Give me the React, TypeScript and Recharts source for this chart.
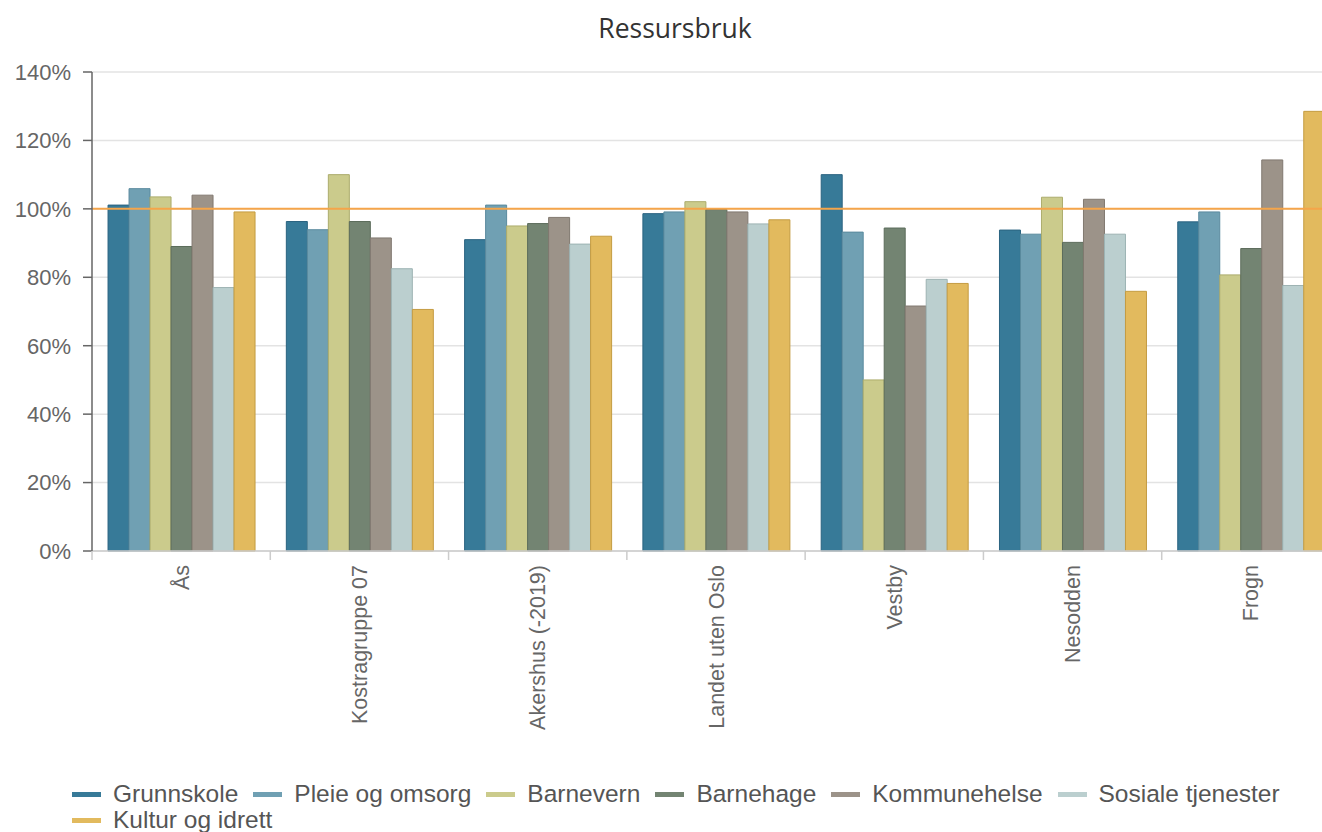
import React from "react";
import { BarChart, Bar, XAxis, YAxis, CartesianGrid, ReferenceLine } from "recharts";

const categories = ["Ås", "Kostragruppe 07", "Akershus (-2019)", "Landet uten Oslo", "Vestby", "Nesodden", "Frogn"];

const grunnskole = [101.1, 96.3, 91.0, 98.6, 110.0, 93.8, 96.2];
const pleieOgOmsorg = [105.9, 93.9, 101.1, 99.1, 93.2, 92.6, 99.1];
const barnevern = [103.5, 110.0, 95.0, 102.1, 50.0, 103.4, 80.7];
const barnehage = [89.0, 96.3, 95.7, 99.8, 94.4, 90.2, 88.4];
const kommunehelse = [104.0, 91.5, 97.5, 99.1, 71.6, 102.8, 114.3];
const sosialeTjenester = [77.0, 82.5, 89.7, 95.6, 79.4, 92.6, 77.6];
const kulturOgIdrett = [99.1, 70.6, 92.0, 96.8, 78.2, 75.9, 128.5];

const yTicks = [0, 20, 40, 60, 80, 100, 120, 140];

const series = [
  { key: "grunnskole", name: "Grunnskole", values: grunnskole, fill: "#377a98", stroke: "#2a6380" },
  { key: "pleie", name: "Pleie og omsorg", values: pleieOgOmsorg, fill: "#70a0b3", stroke: "#5a8a9e" },
  { key: "barnevern", name: "Barnevern", values: barnevern, fill: "#cbcb8c", stroke: "#acac6c" },
  { key: "barnehage", name: "Barnehage", values: barnehage, fill: "#738472", stroke: "#5c6c5b" },
  { key: "kommunehelse", name: "Kommunehelse", values: kommunehelse, fill: "#9c9389", stroke: "#817970" },
  { key: "sosiale", name: "Sosiale tjenester", values: sosialeTjenester, fill: "#bbcfcf", stroke: "#9db3b3" },
  { key: "kultur", name: "Kultur og idrett", values: kulturOgIdrett, fill: "#e2ba5e", stroke: "#c49c42" },
];

const data = categories.map((c, i) => {
  const row: Record<string, string | number> = { name: c };
  series.forEach((s) => {
    row[s.key] = s.values[i];
  });
  return row;
});

const FONT = "'Liberation Sans', Arial, sans-serif";
const CHART_W = 1340;
const Y_AXIS_W = 92;
const PLOT_W = CHART_W - Y_AXIS_W;

const XTick = (props: any) => {
  const { x, y, payload } = props;
  const band = PLOT_W / categories.length;
  const ty = y + 14;
  return (
    <g>
      <line x1={x - band / 2} x2={x - band / 2} y1={y} y2={y + 9} stroke="#cccccc" strokeWidth={1.5} />
      <text
        x={x}
        y={ty}
        transform={`rotate(-90, ${x}, ${ty})`}
        textAnchor="end"
        dy="0.35em"
        fontSize={21.5}
        fill="#666666"
        fontFamily={FONT}
      >
        {payload.value}
      </text>
    </g>
  );
};

export default function App() {
  return (
    <div
      style={{
        position: "absolute",
        left: 0,
        top: 0,
        width: 1322,
        height: 832,
        overflow: "hidden",
        background: "#ffffff",
      }}
    >
      <div
        style={{
          position: "absolute",
          left: 0,
          top: 11,
          width: 1350,
          textAlign: "center",
          fontFamily: "'Open Sans', sans-serif",
          fontSize: 26.5,
          lineHeight: "34px",
          color: "#333333",
        }}
      >
        Ressursbruk
      </div>
      <div style={{ position: "absolute", left: 0, top: 0 }}>
        <BarChart
          width={CHART_W}
          height={770}
          data={data}
          margin={{ top: 72, right: 0, left: 0, bottom: 0 }}
          barCategoryGap="9%"
          barGap={0}
        >
          <CartesianGrid vertical={false} stroke="#e3e3e3" strokeWidth={1.5} />
          <XAxis
            dataKey="name"
            interval={0}
            height={219}
            tickSize={0}
            tickMargin={0}
            tickLine={false}
            axisLine={{ stroke: "#cccccc", strokeWidth: 1.5 }}
            tick={<XTick />}
          />
          <YAxis
            width={Y_AXIS_W}
            domain={[0, 140]}
            ticks={yTicks}
            tickFormatter={(v: number) => `${v}%`}
            tickSize={9}
            tickMargin={12}
            axisLine={{ stroke: "#666666", strokeWidth: 1.5 }}
            tickLine={{ stroke: "#666666", strokeWidth: 1.5 }}
            tick={{ fill: "#666666", fontSize: 22, fontFamily: FONT }}
          />
          {series.map((s) => (
            <Bar
              key={s.key}
              dataKey={s.key}
              name={s.name}
              fill={s.fill}
              stroke={s.stroke}
              strokeWidth={1}
              isAnimationActive={false}
            />
          ))}
          <ReferenceLine y={100} stroke="#f5a54a" strokeWidth={2} />
        </BarChart>
      </div>
      <div
        style={{
          position: "absolute",
          left: 72,
          top: 781,
          width: 1240,
          display: "flex",
          flexWrap: "wrap",
          fontFamily: FONT,
          fontSize: 24.5,
          lineHeight: "26px",
          color: "#555555",
        }}
      >
        {series.map((s) => (
          <div key={s.key} style={{ display: "flex", alignItems: "center", marginRight: 15 }}>
            <span style={{ display: "inline-block", width: 29, height: 5, background: s.fill, marginRight: 12 }} />
            <span>{s.name}</span>
          </div>
        ))}
      </div>
    </div>
  );
}
